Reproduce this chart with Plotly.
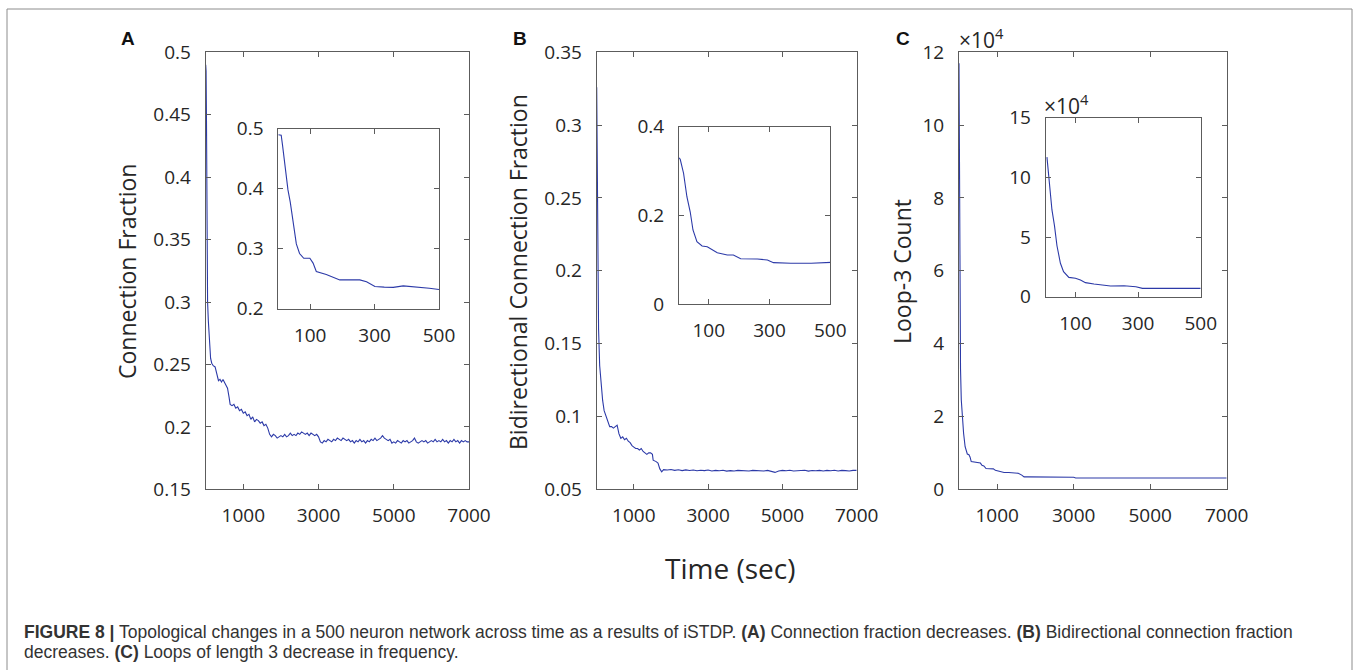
import plotly.graph_objects as go

W, H = 1358, 670

# ---------------- data ----------------
# Panel A main: connection fraction vs time (sec)
a_t = [0, 10, 20, 30, 40, 50, 70, 100, 130, 160, 200, 250, 300, 340, 380, 420, 460, 500, 540, 580,
       620, 650, 700, 750, 800, 850, 900, 950, 1000, 1050, 1100, 1150, 1200, 1250, 1300, 1350, 1400,
       1450, 1500, 1550, 1600, 1650, 1700, 1750, 1800, 1850, 1900, 1950, 2000, 2050, 2100, 2150, 2200,
       2250, 2300, 2350, 2400, 2450, 2500, 2550, 2600, 2650, 2700, 2750, 2800, 2850, 2900, 2950, 3000,
       3050, 3100, 3150, 3200, 3250, 3300, 3350, 3400, 3450, 3500, 3550, 3600, 3650, 3700, 3750, 3800,
       3850, 3900, 3950, 4000, 4050, 4100, 4150, 4200, 4250, 4300, 4350, 4400, 4450, 4500, 4550, 4600,
       4650, 4700, 4750, 4800, 4850, 4900, 4950, 5000, 5050, 5100, 5150, 5200, 5250, 5300, 5350, 5400,
       5450, 5500, 5550, 5600, 5650, 5700, 5750, 5800, 5850, 5900, 5950, 6000, 6050, 6100, 6150, 6200,
       6250, 6300, 6350, 6400, 6450, 6500, 6550, 6600, 6650, 6700, 6750, 6800, 6850, 6900, 6950, 7000]
a_v = [0.490, 0.485, 0.450, 0.400, 0.330, 0.300, 0.285, 0.270, 0.255, 0.251, 0.249, 0.248, 0.243,
       0.237, 0.238, 0.236, 0.238, 0.236, 0.233, 0.231, 0.224, 0.218, 0.217, 0.218, 0.215, 0.216,
       0.213, 0.214, 0.211, 0.212, 0.209, 0.210, 0.206, 0.208, 0.204, 0.206, 0.205, 0.203, 0.204,
       0.201, 0.202, 0.199, 0.194, 0.192, 0.194, 0.193, 0.191, 0.192, 0.193, 0.192, 0.194, 0.192,
       0.193, 0.195, 0.193, 0.194, 0.193, 0.195, 0.194, 0.196, 0.195, 0.194, 0.195, 0.193, 0.195,
       0.194, 0.193, 0.194, 0.192, 0.188, 0.187, 0.189, 0.188, 0.190, 0.189, 0.188, 0.190, 0.189,
       0.191, 0.190, 0.189, 0.191, 0.190, 0.189, 0.190, 0.188, 0.189, 0.187, 0.189, 0.188, 0.190,
       0.188, 0.189, 0.187, 0.189, 0.188, 0.190, 0.189, 0.191, 0.189, 0.190, 0.191, 0.193, 0.191,
       0.190, 0.189, 0.190, 0.187, 0.188, 0.187, 0.189, 0.188, 0.187, 0.189, 0.188, 0.189, 0.187,
       0.188, 0.189, 0.191, 0.188, 0.187, 0.188, 0.189, 0.188, 0.189, 0.187, 0.188, 0.189, 0.188,
       0.190, 0.188, 0.189, 0.188, 0.190, 0.188, 0.189, 0.187, 0.189, 0.188, 0.190, 0.188, 0.189,
       0.187, 0.189, 0.188, 0.189, 0.188, 0.188]

# Panel A inset: first 500 sec
ai_t = [1, 10, 14, 20, 26, 31, 38, 47, 57, 67, 80, 99, 109, 119, 150, 192, 254, 275, 301, 330, 358,
        389, 415, 441, 470, 500]
ai_v = [0.490, 0.489, 0.473, 0.445, 0.420, 0.398, 0.378, 0.342, 0.308, 0.292, 0.284, 0.284, 0.276,
        0.262, 0.257, 0.248, 0.248, 0.245, 0.237, 0.236, 0.2355, 0.238, 0.237, 0.2355, 0.234, 0.232]

# Panel B main: bidirectional connection fraction
b_t = [0, 10, 20, 30, 50, 80, 120, 160, 200, 250, 300, 350, 400, 450, 500, 550, 600, 650, 700, 750,
       800, 850, 900, 950, 1000, 1050, 1100, 1150, 1200, 1250, 1300, 1350, 1400, 1450, 1500, 1520,
       1600, 1650, 1700, 1750, 1800, 1900, 2000, 2100, 2200, 2300, 2400, 2500, 2600, 2700, 2800, 2900,
       3000, 3100, 3200, 3300, 3400, 3500, 3600, 3700, 3800, 3900, 4000, 4100, 4200, 4300, 4400, 4500,
       4600, 4700, 4800, 4900, 5000, 5100, 5200, 5300, 5400, 5500, 5600, 5700, 5800, 5900, 6000,
       6100, 6200, 6300, 6400, 6500, 6600, 6700, 6800, 6900, 7000]
b_v = [0.326, 0.300, 0.250, 0.200, 0.160, 0.135, 0.120, 0.111, 0.104, 0.100, 0.096, 0.093, 0.093,
       0.092, 0.093, 0.094, 0.088, 0.085, 0.086, 0.084, 0.085, 0.083, 0.082, 0.080, 0.079, 0.078,
       0.078, 0.077, 0.078, 0.076, 0.075, 0.074, 0.075, 0.075, 0.074, 0.070, 0.069, 0.068, 0.064,
       0.0620, 0.0635, 0.0632, 0.0636, 0.0630, 0.0634, 0.0628, 0.0633, 0.0629, 0.0632, 0.0627, 0.0631,
       0.0628, 0.0632, 0.0626, 0.0630, 0.0627, 0.0631, 0.0625, 0.0628, 0.0626, 0.0630, 0.0627, 0.0629,
       0.0626, 0.0630, 0.0627, 0.0628, 0.0626, 0.0630, 0.0624, 0.0616, 0.0626, 0.0630, 0.0627, 0.0631,
       0.0626, 0.0629, 0.0627, 0.0631, 0.0625, 0.0629, 0.0627, 0.0630, 0.0626, 0.0630, 0.0627, 0.0631,
       0.0626, 0.0630, 0.0628, 0.0626, 0.0630, 0.0630]

# Panel B inset
bi_t = [2, 6, 17, 28, 39, 48, 61, 78, 95, 128, 161, 181, 205, 260, 293, 313, 370, 437, 503]
bi_v = [0.330, 0.3265, 0.295, 0.242, 0.2075, 0.167, 0.1405, 0.131, 0.129, 0.1157, 0.1105, 0.1105,
        0.102, 0.1015, 0.0993, 0.0933, 0.092, 0.092, 0.094]

# Panel C main: loop-3 count (x 10^4)
c_t = [0, 5, 10, 20, 40, 60, 90, 120, 160, 217, 260, 288, 320, 400, 500, 560, 600, 650, 707, 800,
       899, 950, 1000, 1100, 1178, 1300, 1466, 1550, 1641, 1702, 1800, 2500, 3000, 3050, 3500, 7000]
c_v = [11.7, 10.0, 8.0, 5.2, 3.3, 2.45, 1.8, 1.54, 1.17, 0.97, 0.95, 0.89, 0.76, 0.75, 0.74, 0.72,
       0.66, 0.64, 0.57, 0.57, 0.56, 0.52, 0.51, 0.49, 0.46, 0.46, 0.46, 0.44, 0.39, 0.34, 0.34, 0.34,
       0.33, 0.31, 0.31, 0.31]

# Panel C inset (x 10^4)
ci_t = [9, 18, 25, 33, 41, 52, 62, 79, 100, 116, 132, 159, 191, 212, 255, 293, 314, 400, 500]
ci_v = [11.7, 9.5, 7.27, 5.95, 4.27, 2.8, 2.1, 1.62, 1.54, 1.40, 1.18, 1.06, 1.0, 0.90, 0.92, 0.84,
        0.70, 0.70, 0.70]

main_x_ticks = [1000, 3000, 5000, 7000]
inset_x_ticks = [100, 300, 500]
a_y_ticks = [0.15, 0.2, 0.25, 0.3, 0.35, 0.4, 0.45, 0.5]
ai_y_ticks = [0.2, 0.3, 0.4, 0.5]
b_y_ticks = [0.05, 0.1, 0.15, 0.2, 0.25, 0.3, 0.35]
bi_y_ticks = [0, 0.2, 0.4]
c_y_ticks = [0, 2, 4, 6, 8, 10, 12]
ci_y_ticks = [0, 5, 10, 15]

y_titles = ["Connection Fraction", "Bidirectional Connection Fraction", "Loop-3 Count"]
x_title = "Time (sec)"
panel_letters = ["A", "B", "C"]
caption_1 = ("<b>FIGURE 8 |</b> Topological changes in a 500 neuron network across time as a results of "
             "iSTDP. <b>(A)</b> Connection fraction decreases. <b>(B)</b> Bidirectional connection fraction")
caption_2 = "decreases. <b>(C)</b> Loops of length 3 decrease in frequency."

# ---------------- layout helpers ----------------
def fx(px):
    return px / W

def fy(py):
    return 1 - py / H

def lab(v):
    return "%g" % v

LINE = "#2c3aa8"
AX = "#5c5c5c"
TXT = "#262626"
TICKFONT = dict(family="Open Sans", size=19, color=TXT)

def xax(domain, anchor, rng, ticks):
    return dict(domain=[fx(domain[0]), fx(domain[1])], anchor=anchor, range=rng,
                tickvals=ticks, ticktext=[lab(t) for t in ticks], showline=True, linecolor=AX,
                linewidth=1, mirror="ticks", ticks="inside", ticklen=5, tickcolor=AX, tickwidth=1,
                tickfont=TICKFONT, showgrid=False, zeroline=False, ticklabelstandoff=9,
                automargin=False, fixedrange=True)

def yax(domain, anchor, rng, ticks):
    return dict(domain=[fy(domain[1]), fy(domain[0])], anchor=anchor, range=rng,
                tickvals=ticks, ticktext=[lab(t) for t in ticks], showline=True, linecolor=AX,
                linewidth=1, mirror="ticks", ticks="inside", ticklen=5, tickcolor=AX, tickwidth=1,
                tickfont=TICKFONT, showgrid=False, zeroline=False, ticklabelstandoff=10,
                automargin=False, fixedrange=True)

fig = go.Figure()
series = [(a_t, a_v, "x", "y"), (b_t, b_v, "x2", "y2"), (c_t, c_v, "x3", "y3"),
          (ai_t, ai_v, "x4", "y4"), (bi_t, bi_v, "x5", "y5"), (ci_t, ci_v, "x6", "y6")]
for t, v, xa, ya in series:
    fig.add_trace(go.Scatter(x=t, y=v, xaxis=xa, yaxis=ya, mode="lines",
                             line=dict(color=LINE, width=1.1), showlegend=False, hoverinfo="skip"))

layout = dict(
    width=W, height=H, margin=dict(l=0, r=0, t=0, b=0, pad=0, autoexpand=False),
    paper_bgcolor="white", plot_bgcolor="white", showlegend=False,
    xaxis=xax((205.7, 469), "y", [0, 7000], main_x_ticks),
    yaxis=yax((52.3, 489.3), "x", [0.15, 0.5], a_y_ticks),
    xaxis2=xax((596.7, 856.7), "y2", [0, 7000], main_x_ticks),
    yaxis2=yax((52.3, 489.3), "x2", [0.05, 0.35], b_y_ticks),
    xaxis3=xax((959, 1226.7), "y3", [0, 7000], main_x_ticks),
    yaxis3=yax((52.3, 489.3), "x3", [0, 12], c_y_ticks),
    xaxis4=xax((278.3, 439), "y4", [1, 500], inset_x_ticks),
    yaxis4=yax((128.7, 308.7), "x4", [0.2, 0.5], ai_y_ticks),
    xaxis5=xax((679, 830.3), "y5", [2, 500], inset_x_ticks),
    yaxis5=yax((126.7, 304), "x5", [0, 0.4], bi_y_ticks),
    xaxis6=xax((1045.7, 1200.7), "y6", [5, 500], inset_x_ticks),
    yaxis6=yax((117.7, 296.7), "x6", [0, 15], ci_y_ticks),
)
fig.update_layout(**layout)

ann = []
# y titles
for txt, px in zip(y_titles, [127, 518, 902]):
    ann.append(dict(text=txt, x=fx(px), y=fy(272), xref="paper", yref="paper", textangle=-90,
                    showarrow=False, xanchor="center", yanchor="middle",
                    font=dict(family="Open Sans", size=23, color=TXT)))
ann.append(dict(text=x_title, x=fx(730), y=fy(568), xref="paper", yref="paper", showarrow=False,
                xanchor="center", yanchor="middle", font=dict(family="Open Sans", size=28, color=TXT)))
for letter, px in zip(panel_letters, [128, 520, 903]):
    ann.append(dict(text="<b>%s</b>" % letter, x=fx(px), y=fy(38), xref="paper", yref="paper",
                    showarrow=False, xanchor="center", yanchor="middle",
                    font=dict(family="Liberation Sans", size=19, color="#111111")))
# exponent labels
ann.append(dict(text="\u00d710<sup>4</sup>", x=fx(957), y=fy(38), xref="paper", yref="paper",
                showarrow=False, xanchor="left", yanchor="middle",
                font=dict(family="Open Sans", size=21, color=TXT)))
ann.append(dict(text="\u00d710<sup>4</sup>", x=fx(1042), y=fy(104), xref="paper", yref="paper",
                showarrow=False, xanchor="left", yanchor="middle",
                font=dict(family="Open Sans", size=21, color=TXT)))
# caption
ann.append(dict(text=caption_1, x=fx(22), y=fy(632), xref="paper", yref="paper", showarrow=False,
                xanchor="left", yanchor="middle",
                font=dict(family="Liberation Sans", size=17.5, color="#333333")))
ann.append(dict(text=caption_2, x=fx(22), y=fy(652), xref="paper", yref="paper", showarrow=False,
                xanchor="left", yanchor="middle",
                font=dict(family="Liberation Sans", size=17.5, color="#333333")))
fig.update_layout(annotations=ann)

fig.add_shape(type="rect", xref="paper", yref="paper", x0=fx(7), x1=fx(1352), y0=fy(690), y1=fy(9),
              line=dict(color="#8c8c8c", width=1), fillcolor="rgba(0,0,0,0)", layer="below")

fig.write_html("out.html", config={"displayModeBar": False},
               post_script="document.body.style.margin='0';")
